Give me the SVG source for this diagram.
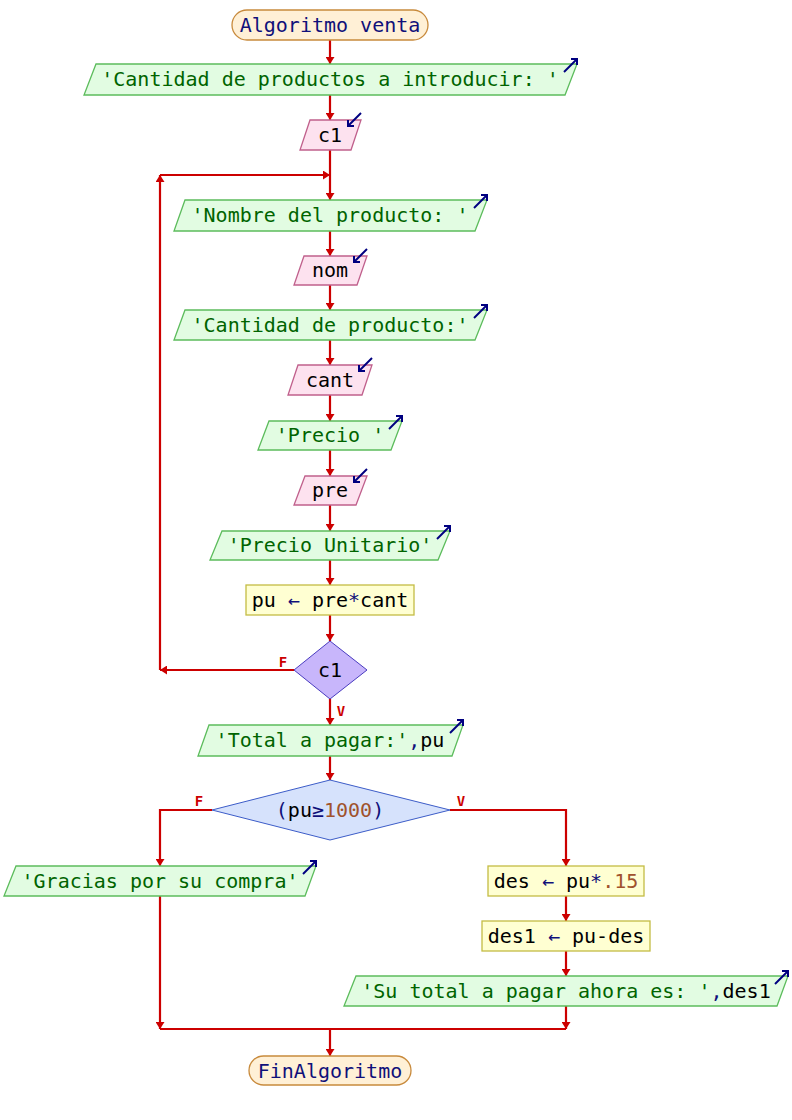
<svg xmlns="http://www.w3.org/2000/svg" width="792" height="1120" viewBox="0 0 792 1120">
<style>
text{font-family:"DejaVu Sans Mono","Liberation Mono",monospace;font-size:20px;text-anchor:middle}
.term{fill:#fff0d6;stroke:#c88a3c;stroke-width:1.3}
.out{fill:#e2fce2;stroke:#5cbc5c;stroke-width:1.3}
.inp{fill:#fde2ef;stroke:#c0608c;stroke-width:1.3}
.proc{fill:#ffffd2;stroke:#c4bc44;stroke-width:1.3}
.dec1{fill:#c8b6fb;stroke:#4a3cc0;stroke-width:1}
.dec2{fill:#d6e2fc;stroke:#3c5cc8;stroke-width:1}
.tn{fill:#10107a}
.str{fill:#006400}
.blk{fill:#000}
.op{fill:#10107a}
.num{fill:#a0522d}
.con{fill:none;stroke:#cc0000;stroke-width:2.2}
.arr{marker-end:url(#ah)}
.lbl{fill:#cc0000;font-size:14px;font-weight:bold}
.ic{fill:none;stroke:#000080;stroke-width:2}
</style>
<defs>
<marker id="ah" viewBox="0 0 10 10" refX="10" refY="5" markerUnits="userSpaceOnUse" markerWidth="7" markerHeight="9" orient="auto" preserveAspectRatio="none">
<path d="M0,0 L10,5 L0,10 z" fill="#cc0000"/>
</marker>
<g id="outIcon" class="ic"><path d="M-13,8 L0,-5"/><path d="M-6,-5 L0,-5 L0,1"/></g>
<g id="inIcon" class="ic"><path d="M0,-7 L-13,6"/><path d="M-13,0 L-13,6 L-7,6"/></g>
</defs>

<g id="connectors">
<path class="con arr" d="M330,40 V64"/>
<path class="con arr" d="M330,95 V120"/>
<path class="con arr" d="M330,150 V200"/>
<path class="con arr" d="M160,175 H330"/>
<path class="con arr" d="M294,670 H160"/>
<path class="con arr" d="M160,670 V175"/>
<path class="con arr" d="M330,231 V256"/>
<path class="con arr" d="M330,285 V310"/>
<path class="con arr" d="M330,340 V365"/>
<path class="con arr" d="M330,395 V421"/>
<path class="con arr" d="M330,450 V476"/>
<path class="con arr" d="M330,505 V531"/>
<path class="con arr" d="M330,560 V585"/>
<path class="con arr" d="M330,615 V641"/>
<path class="con arr" d="M330,699 V725"/>
<path class="con arr" d="M330,756 V780"/>
<path class="con arr" d="M212,810 H160 V866"/>
<path class="con arr" d="M450,810 H566 V866"/>
<path class="con arr" d="M566,896 V921"/>
<path class="con arr" d="M566,951 V976"/>
<path class="con arr" d="M160,896 V1029"/>
<path class="con arr" d="M566,1006 V1029"/>
<path class="con" d="M160,1029 H566"/>
<path class="con arr" d="M330,1029 V1056"/>
<text class="lbl" x="283" y="667">F</text>
<text class="lbl" x="341" y="716">V</text>
<text class="lbl" x="199" y="806">F</text>
<text class="lbl" x="461" y="806">V</text>
</g>

<g id="start">
<rect class="term" x="232" y="10" width="196" height="30" rx="15"/>
<text class="tn" x="330" y="32">Algoritmo venta</text>
</g>

<g id="out1">
<polygon class="out" points="96,64 577,64 565,95 84,95"/>
<text class="str" x="330" y="86">'Cantidad de productos a introducir: '</text>
<use href="#outIcon" x="577" y="64"/>
</g>

<g id="in_c1">
<polygon class="inp" points="310,120 361,120 351,150 300,150"/>
<text class="blk" x="330" y="142">c1</text>
<use href="#inIcon" x="361" y="120"/>
</g>

<g id="out2">
<polygon class="out" points="185,200 487,200 475,231 174,231"/>
<text class="str" x="330" y="222">'Nombre del producto: '</text>
<use href="#outIcon" x="487" y="200"/>
</g>

<g id="in_nom">
<polygon class="inp" points="304,256 367,256 357,285 294,285"/>
<text class="blk" x="330" y="277">nom</text>
<use href="#inIcon" x="367" y="256"/>
</g>

<g id="out3">
<polygon class="out" points="185,310 487,310 475,340 174,340"/>
<text class="str" x="330" y="332">'Cantidad de producto:'</text>
<use href="#outIcon" x="487" y="310"/>
</g>

<g id="in_cant">
<polygon class="inp" points="298,365 372,365 362,395 288,395"/>
<text class="blk" x="330" y="387">cant</text>
<use href="#inIcon" x="372" y="365"/>
</g>

<g id="out4">
<polygon class="out" points="269,421 402,421 391,450 258,450"/>
<text class="str" x="330" y="442">'Precio '</text>
<use href="#outIcon" x="402" y="421"/>
</g>

<g id="in_pre">
<polygon class="inp" points="305,476 367,476 356,505 294,505"/>
<text class="blk" x="330" y="497">pre</text>
<use href="#inIcon" x="367" y="476"/>
</g>

<g id="out5">
<polygon class="out" points="222,531 450,531 438,560 210,560"/>
<text class="str" x="330" y="552">'Precio Unitario'</text>
<use href="#outIcon" x="450" y="531"/>
</g>

<g id="proc_pu">
<rect class="proc" x="246" y="585" width="168" height="30"/>
<text x="330" y="607"><tspan class="blk">pu </tspan><tspan class="op">←</tspan><tspan class="blk"> pre</tspan><tspan class="op">*</tspan><tspan class="blk">cant</tspan></text>
</g>

<g id="dec_c1">
<polygon class="dec1" points="330,641 367,670 330,699 294,670"/>
<text class="blk" x="330" y="677">c1</text>
</g>

<g id="out6">
<polygon class="out" points="209,725 463,725 452,756 198,756"/>
<text x="330" y="747"><tspan class="str">'Total a pagar:'</tspan><tspan class="op">,</tspan><tspan class="blk">pu</tspan></text>
<use href="#outIcon" x="463" y="725"/>
</g>

<g id="dec_pu">
<polygon class="dec2" points="330,780 450,810 330,840 212,810"/>
<text x="330" y="817"><tspan class="op">(</tspan><tspan class="blk">pu</tspan><tspan class="op">≥</tspan><tspan class="num">1000</tspan><tspan class="op">)</tspan></text>
</g>

<g id="out_gracias">
<polygon class="out" points="16,866 316,866 305,896 4,896"/>
<text class="str" x="160" y="888">'Gracias por su compra'</text>
<use href="#outIcon" x="316" y="866"/>
</g>

<g id="proc_des">
<rect class="proc" x="488" y="866" width="156" height="30"/>
<text x="566" y="888"><tspan class="blk">des </tspan><tspan class="op">←</tspan><tspan class="blk"> pu</tspan><tspan class="op">*</tspan><tspan class="num">.15</tspan></text>
</g>

<g id="proc_des1">
<rect class="proc" x="482" y="921" width="168" height="30"/>
<text x="566" y="943"><tspan class="blk">des1 </tspan><tspan class="op">←</tspan><tspan class="blk"> pu-des</tspan></text>
</g>

<g id="out_total">
<polygon class="out" points="356,976 788,976 777,1006 344,1006"/>
<text x="566" y="998"><tspan class="str">'Su total a pagar ahora es: '</tspan><tspan class="op">,</tspan><tspan class="blk">des1</tspan></text>
<use href="#outIcon" x="788" y="976"/>
</g>

<g id="end">
<rect class="term" x="249" y="1056" width="162" height="29" rx="14.5"/>
<text class="tn" x="330" y="1078">FinAlgoritmo</text>
</g>
</svg>
